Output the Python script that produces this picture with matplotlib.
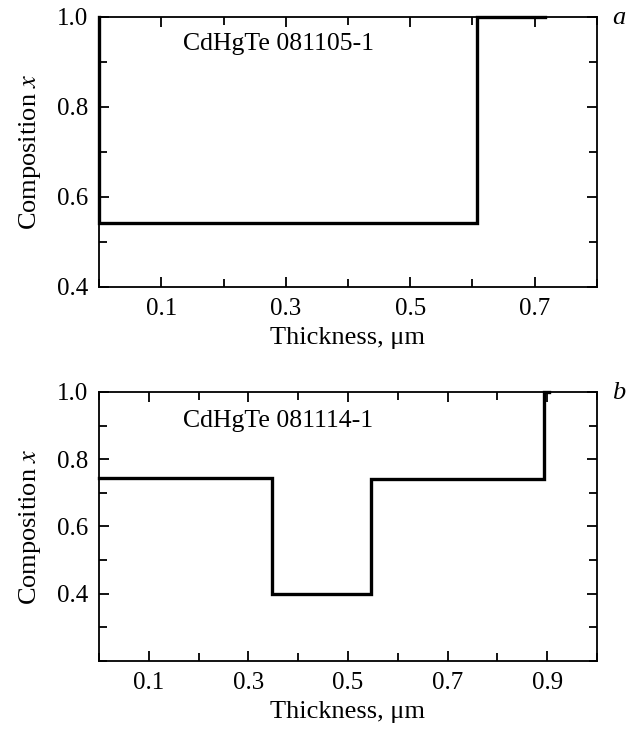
import numpy as np
import matplotlib
matplotlib.use("Agg")
import matplotlib.pyplot as plt
from matplotlib.ticker import MultipleLocator, FixedLocator

plt.rcParams['font.family'] = ['Liberation Serif', 'DejaVu Serif']
plt.rcParams['mathtext.fontset'] = 'stix'

# panel a: step profile, sample 081105-1
thick_a = [0.0, 0.0, 0.607, 0.607, 0.717]
comp_a = [1.0, 0.542, 0.542, 1.0, 1.0]
label_a = "CdHgTe 081105-1"

# panel b: step profile, sample 081114-1
thick_b = [0.0, 0.347, 0.347, 0.547, 0.547, 0.893, 0.893, 0.904]
comp_b = [0.745, 0.745, 0.400, 0.400, 0.740, 0.740, 1.0, 1.0]
label_b = "CdHgTe 081114-1"

fig = plt.figure(figsize=(6.35, 7.32), dpi=100)
ax_a = fig.add_axes([0.156, 0.608, 0.784, 0.369])
ax_b = fig.add_axes([0.156, 0.097, 0.784, 0.3675])


def style_axes(ax, xmax, ymin, xmajor, ymajor):
    ax.set_xlim(0, xmax)
    ax.set_ylim(ymin, 1.0)
    ax.xaxis.set_major_locator(FixedLocator(xmajor))
    ax.xaxis.set_minor_locator(MultipleLocator(0.1))
    ax.yaxis.set_major_locator(FixedLocator(ymajor))
    ax.yaxis.set_minor_locator(MultipleLocator(0.1))
    ax.tick_params(which='both', direction='in', top=True, right=True,
                   width=1.3, labelsize=18, pad=8)
    ax.tick_params(which='major', length=7)
    ax.tick_params(which='minor', length=6)
    for s in ax.spines.values():
        s.set_linewidth(1.3)
    ax.set_xlabel("Thickness, μm", fontsize=19, labelpad=5)
    ax.set_ylabel("Composition $\\mathit{x}$", fontsize=19, labelpad=10)


ax_a.plot(thick_a, comp_a, color='black', lw=2.4, solid_joinstyle='miter',
          clip_on=False)
style_axes(ax_a, 0.8, 0.4, [0.1, 0.3, 0.5, 0.7], [0.4, 0.6, 0.8, 1.0])
ax_a.text(0.135, 0.94, label_a, fontsize=18.5, va='center')
ax_a.text(1.03, 0.995, "a", transform=ax_a.transAxes, fontsize=19,
          style='italic', va='center', ha='left')

ax_b.plot(thick_b, comp_b, color='black', lw=2.4, solid_joinstyle='miter',
          clip_on=False)
style_axes(ax_b, 1.0, 0.2, [0.1, 0.3, 0.5, 0.7, 0.9], [0.4, 0.6, 0.8, 1.0])
ax_b.text(0.168, 0.915, label_b, fontsize=18.5, va='center')
ax_b.text(1.03, 0.995, "b", transform=ax_b.transAxes, fontsize=19,
          style='italic', va='center', ha='left')

fig.savefig("out.png", dpi=100)
